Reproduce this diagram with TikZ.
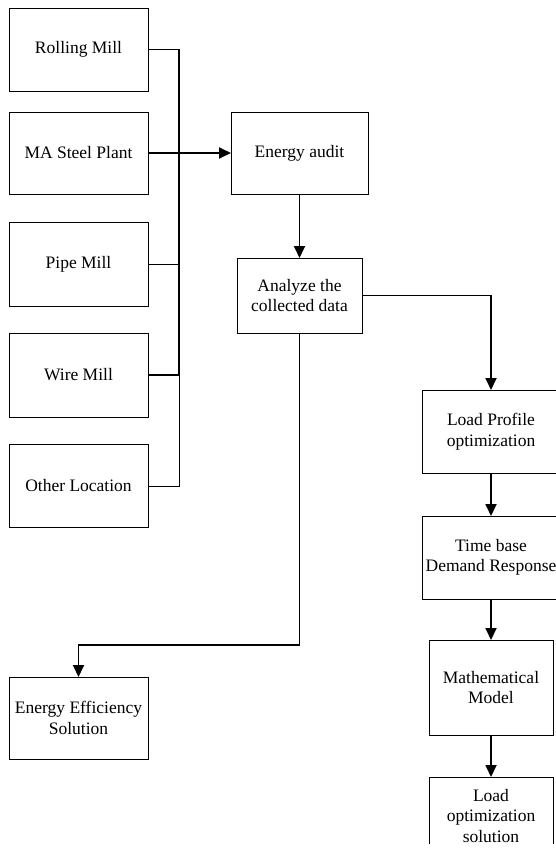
\documentclass[tikz,border=0pt]{standalone}
\usepackage{fontspec}
\setmainfont{Liberation Serif}
\newfontfamily\boxfont{Liberation Serif}
\usetikzlibrary{arrows.meta}
\begin{document}
\begin{tikzpicture}[x=1pt,y=-1pt,
  box/.style={draw=black,line width=0.8pt,inner sep=0pt,outer sep=0pt,align=center,
    font=\boxfont\fontsize{17.5}{20.5}\selectfont},
  thickline/.style={line width=1.8pt},
  thinline/.style={line width=0.9pt},
  arr/.style={thickline,-{Triangle[length=12pt,width=11pt]}}]
\useasboundingbox (0,0) rectangle (556,851);
\begin{scope}
\clip (0,0) rectangle (556,843);
\node[box,minimum width=139pt,minimum height=83pt] (rm) at (78.5,49.5) {Rolling Mill};
\node[box,minimum width=139pt,minimum height=82pt] (ma) at (78.5,153) {MA Steel Plant};
\node[box,minimum width=139pt,minimum height=84pt] (pm) at (78.5,264) {Pipe Mill};
\node[box,minimum width=139pt,minimum height=84pt] (wm) at (78.5,375) {Wire Mill};
\node[box,minimum width=139pt,minimum height=83pt] (ol) at (78.5,486) {Other Location};
\node[box,minimum width=137pt,minimum height=82pt] (ea) at (299.5,153) {Energy audit};
\node[box,minimum width=125pt,minimum height=75pt] (an) at (299.5,295.5) {Analyze the\\collected data};
\node[box,minimum width=138pt,minimum height=83pt] (lp) at (491,431.5) {Load Profile\\optimization};
\node[box,minimum width=138pt,minimum height=83pt] (tb) at (491,557.5) {Time base\\Demand Response};
\node[box,minimum width=124pt,minimum height=95pt] (mm) at (491,687.5) {Mathematical\\Model};
\node[box,minimum width=124pt,minimum height=78pt] (lo) at (491,816) {Load\\optimization\\solution};
\node[box,minimum width=139pt,minimum height=82pt] (ee) at (78.5,718) {Energy Efficiency\\Solution};

\coordinate (busR) at (179,49.5);
\coordinate (busW) at (179,375);
\coordinate (busP) at (179,264);
\coordinate (busO) at (179,486);
\coordinate (anR) at (491,295.5);
\coordinate (anD) at (299.5,645);
\coordinate (eeT) at (78.5,645);

\draw[thickline] (rm.east) -- (busR) -- (busW) -- (wm.east);
\draw[thinline] (pm.east) -- (busP);
\draw[thinline] (ol.east) -- (busO) -- (busW);
\draw[arr] (ma.east) -- (ea.west);
\draw[arr] (ea.south) -- (an.north);
\draw[arr] (an.east) -- (anR) -- (lp.north);
\draw[arr] (an.south) -- (anD) -- (eeT) -- (ee.north);
\draw[arr] (lp.south) -- (tb.north);
\draw[arr] (tb.south) -- (mm.north);
\draw[arr] (mm.south) -- (lo.north);
\end{scope}
\end{tikzpicture}
\end{document}
